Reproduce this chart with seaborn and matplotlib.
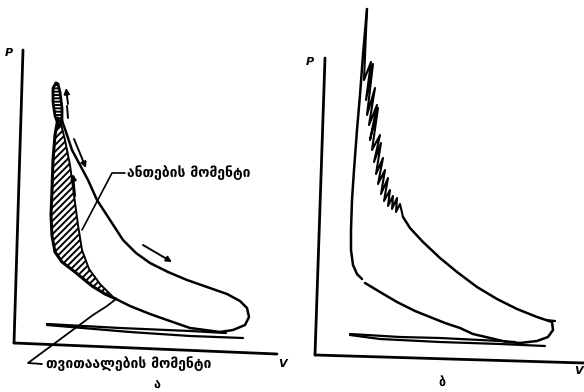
import numpy as np
import pandas as pd
import matplotlib
matplotlib.use("Agg")
import matplotlib.pyplot as plt
import seaborn as sns

sns.set_theme(style="white")
plt.rcParams["font.family"] = ["DejaVu Sans"]
plt.rcParams["hatch.linewidth"] = 1.4

# ---- panel "ა": indicator diagram with ignition lag -------------------------
a_axis_p = [(23, 50), (14, 343)]
a_axis_v = [(14, 343), (277, 354)]
a_top_loop = [(56, 83), (53, 88), (53, 102), (55, 116), (59, 126), (62, 122),
              (62, 108), (60, 92), (58, 84), (56, 83)]
a_hatch_outer = [(58, 118), (55, 135), (53, 160), (52, 190), (51, 215), (52, 236),
                 (55, 252), (62, 262), (75, 272), (92, 286), (105, 294), (116, 299)]
a_hatch_inner = [(113, 297), (100, 284), (89, 269), (82, 250), (78, 225),
                 (74, 195), (70, 165), (65, 140), (60, 120)]
a_expansion = [(61, 118), (66, 132), (72, 150), (80, 165), (88, 180), (97, 200),
               (110, 220), (123, 240), (136, 253), (150, 263), (168, 272),
               (187, 280), (207, 287), (227, 294), (240, 301), (247, 308),
               (249, 317), (245, 325), (233, 330), (220, 332)]
a_compression = [(220, 332), (205, 330), (190, 328), (167, 320), (150, 314),
                 (130, 306), (116, 299)]
a_pump_upper = [(47, 324), (120, 328), (190, 331), (226, 333)]
a_pump_lower = [(47, 325), (130, 332), (190, 336), (243, 338)]
a_leader_top = [(125, 173), (112, 173), (82, 230)]
a_leader_low = [(42, 364), (28, 363), (70, 332), (93, 315), (107, 306), (116, 299)]
a_arrows = [((68, 104), (66, 88)), ((74, 139), (86, 168)),
            ((143, 245), (172, 262)), ((75, 196), (73, 174))]
a_dash = [(67, 106), (68, 118)]

# ---- panel "ბ": indicator diagram with detonation ---------------------------
b_axis_p = [(325, 58), (315, 355)]
b_axis_v = [(315, 355), (584, 363)]
b_compression_up = [(362, 279), (357, 274), (353, 265), (351, 250), (351, 230),
                    (352, 200), (354, 170), (357, 130), (360, 95), (363, 55),
                    (367, 9)]
b_knock = [(367, 9), (364, 80), (371, 62), (366, 100), (373, 64), (367, 115),
           (375, 88), (369, 125), (377, 105), (370, 140), (378, 108),
           (372, 150), (380, 135), (374, 162), (381, 143), (376, 174),
           (383, 158), (378, 184), (385, 170), (381, 194), (388, 178),
           (384, 201), (390, 190), (388, 206), (393, 196), (392, 209),
           (397, 198), (396, 212), (400, 204), (403, 217)]
b_expansion = [(403, 217), (410, 228), (423, 242), (440, 258), (457, 272),
               (477, 287), (497, 299), (517, 309), (537, 317), (552, 322),
               (553, 330), (548, 337), (537, 341), (520, 343), (507, 342)]
b_compression = [(365, 283), (380, 292), (397, 302), (415, 311), (430, 317),
                 (445, 323), (460, 328), (473, 334), (490, 338), (507, 342)]
b_pump_upper = [(350, 334), (400, 337), (440, 338), (500, 341), (515, 342)]
b_pump_lower = [(350, 335), (380, 339), (440, 342), (500, 344), (545, 346)]
b_hook = [(546, 320), (555, 321)]

label_ignition = "ანთების მომენტი"
label_self_ignition = "თვითაალების მომენტი"
captions = ["ა", "ბ"]

fig = plt.figure(figsize=(5.84, 3.92), dpi=100)
ax = fig.add_axes([0, 0, 1, 1])


def curve(points, lw=1.8, **kw):
    df = pd.DataFrame(points, columns=["x", "y"])
    sns.lineplot(data=df, x="x", y="y", sort=False, estimator=None,
                 color="black", lw=lw, ax=ax, solid_capstyle="round",
                 solid_joinstyle="round", **kw)


# hatched regions
poly = a_hatch_outer + a_hatch_inner
ax.fill([p[0] for p in poly], [p[1] for p in poly], facecolor="white",
        edgecolor="black", hatch="/////", lw=0)
ax.fill([p[0] for p in a_top_loop], [p[1] for p in a_top_loop],
        facecolor="white", edgecolor="black", hatch="-----", lw=0)

for pts, lw in [(a_axis_p, 2.0), (a_axis_v, 2.0), (a_top_loop, 2.0),
                (a_hatch_outer, 2.2), (a_hatch_inner, 1.4), (a_expansion, 1.8),
                (a_compression, 1.8), (a_pump_upper, 1.6), (a_pump_lower, 1.6),
                (a_leader_top, 1.2), (a_leader_low, 1.3), (a_dash, 1.4),
                (b_axis_p, 2.0), (b_axis_v, 2.0), (b_compression_up, 1.8),
                (b_knock, 1.5), (b_expansion, 1.8), (b_compression, 1.8),
                (b_pump_upper, 1.6), (b_pump_lower, 1.6), (b_hook, 1.6)]:
    curve(pts, lw=lw)

for start, end in a_arrows:
    ax.annotate("", xy=end, xytext=start,
                arrowprops=dict(arrowstyle="-|>", color="black", lw=1.4,
                                mutation_scale=8, shrinkA=0, shrinkB=0))

bold = dict(color="black", fontweight="bold")
ax.text(9, 53, "P", fontsize=8, ha="center", va="center", fontstyle="italic", **bold)
ax.text(282, 364, "V", fontsize=8, ha="center", va="center", fontstyle="italic", **bold)
ax.text(310, 62, "P", fontsize=8, ha="center", va="center", fontstyle="italic", **bold)
ax.text(578, 371, "V", fontsize=8, ha="center", va="center", fontstyle="italic", **bold)
ax.text(127, 173, label_ignition, fontsize=10, ha="left", va="center", **bold)
ax.text(46, 364, label_self_ignition, fontsize=10, ha="left", va="center", **bold)
ax.text(157, 384, captions[0], fontsize=9, ha="center", va="center", **bold)
ax.text(442, 382, captions[1], fontsize=9, ha="center", va="center", **bold)

ax.set_xlim(0, 584)
ax.set_ylim(392, 0)
ax.set_axis_off()
fig.savefig("out.png", dpi=100, facecolor="white")
